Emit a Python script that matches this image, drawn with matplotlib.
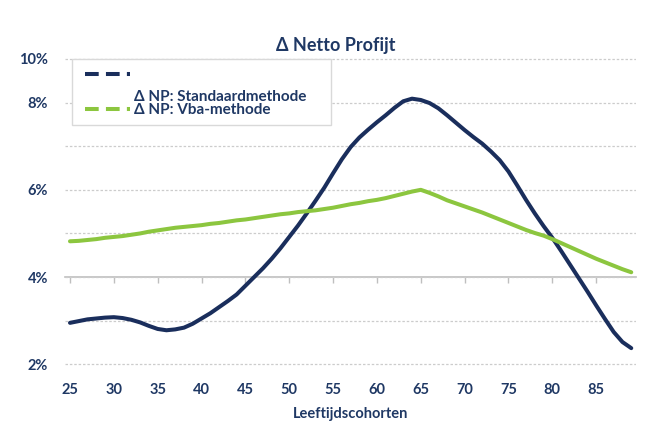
import matplotlib
matplotlib.use("Agg")
import matplotlib.pyplot as plt
from matplotlib.lines import Line2D
from matplotlib.patches import Rectangle

# ---- data ----
ages = list(range(25, 90))
standaard = [2.95, 2.99, 3.03, 3.05, 3.07, 3.08, 3.06, 3.02, 2.96, 2.88,
             2.81, 2.78, 2.80, 2.84, 2.93, 3.05, 3.17, 3.31, 3.45, 3.60,
             3.80, 4.00, 4.20, 4.42, 4.66, 4.92, 5.18, 5.46, 5.75, 6.05,
             6.38, 6.70, 6.98, 7.20, 7.38, 7.55, 7.71, 7.88, 8.03, 8.09,
             8.06, 7.99, 7.87, 7.71, 7.54, 7.37, 7.21, 7.06, 6.88, 6.68,
             6.42, 6.10, 5.77, 5.46, 5.17, 4.90, 4.60, 4.29, 3.98, 3.67,
             3.35, 3.04, 2.74, 2.51, 2.37]
vba = [4.82, 4.83, 4.85, 4.87, 4.90, 4.92, 4.94, 4.97, 5.00, 5.04,
       5.07, 5.10, 5.13, 5.15, 5.17, 5.19, 5.22, 5.24, 5.27, 5.30,
       5.32, 5.35, 5.38, 5.41, 5.44, 5.46, 5.49, 5.51, 5.53, 5.56,
       5.59, 5.63, 5.67, 5.70, 5.74, 5.77, 5.81, 5.86, 5.91, 5.96,
       6.00, 5.93, 5.85, 5.76, 5.69, 5.62, 5.55, 5.48, 5.40, 5.32,
       5.24, 5.16, 5.08, 5.01, 4.95, 4.87, 4.78, 4.69, 4.60, 4.51,
       4.42, 4.34, 4.26, 4.18, 4.11]
x_ticks = [25, 30, 35, 40, 45, 50, 55, 60, 65, 70, 75, 80, 85]
y_grid = [2, 3, 4, 5, 6, 7, 8, 9]
y_tick_labels = ['2%', '', '4%', '', '6%', '', '8%', '10%']
axis_cross = 4
series_labels = ['Δ NP: Standaardmethode', 'Δ NP: Vba-methode']
title = 'Δ Netto Profijt'
xlabel = 'Leeftijdscohorten'

NAVY = '#1a2e5c'
GREEN = '#8cc63f'
TXT = '#1f3864'
FONT = ['Lato', 'DejaVu Sans']
plt.rcParams['font.family'] = FONT

W, H = 646, 433
fig = plt.figure(figsize=(6.46, 4.33), dpi=100)
ax = fig.add_axes([0.1006, 0.1436, 0.8839, 0.7252])
ymin, ymax = 1.85, 9.05
ax.set_xlim(24.43, 89.54)
ax.set_ylim(ymin, ymax)

LW = 2.9
ax.plot(ages, standaard, color=NAVY, lw=LW, solid_capstyle='round',
        solid_joinstyle='round', zorder=3)
ax.plot(ages, vba, color=GREEN, lw=LW, solid_capstyle='round',
        solid_joinstyle='round', zorder=3)

for s in ax.spines.values():
    s.set_visible(False)
ax.set_yticks(y_grid)
ax.set_yticklabels(y_tick_labels)
ax.set_xticks(x_ticks)
ax.set_xticklabels([str(v) for v in x_ticks])
ax.tick_params(axis='both', length=0, labelcolor=TXT, labelsize=10.5)
ax.tick_params(axis='y', pad=12)
ax.tick_params(axis='x', pad=9)
for t in ax.get_xticklabels() + ax.get_yticklabels():
    t.set_fontweight('bold')
ax.grid(axis='y', color='#cccccc', lw=0.9, linestyle=(0, (2, 1.5)))
ax.set_axisbelow(True)

# horizontal category axis crossing at 4%
sec = ax.secondary_xaxis((axis_cross - ymin) / (ymax - ymin))
sec.set_xticks(x_ticks)
sec.tick_params(direction='out', length=4, color='#bfbfbf', width=1,
                labelbottom=False, labeltop=False)
for s in sec.spines.values():
    s.set_color('#bfbfbf')
    s.set_linewidth(1.2)

ax.set_xlabel(xlabel, fontsize=10.5, fontweight='bold', color=TXT, labelpad=7)
fig.text(336 / W, 1 - 45 / H, title, ha='center', va='center',
         fontsize=13, fontweight='bold', color=TXT)

# legend frame
fig.patches.append(Rectangle((72 / W, 1 - 125 / H), 259 / W, 66 / H,
                             transform=fig.transFigure, facecolor='white',
                             edgecolor='#d9d9d9', lw=1.0, zorder=1))

FS = 11
dash = (0, (3.4, 1.8))
hl = 45 / (FS * 100 / 72)
leg1 = fig.legend([Line2D([], [], color=NAVY, lw=LW, linestyle=dash)], [' '],
                  loc='center left', bbox_to_anchor=(85 / W, 1 - 75 / H),
                  borderaxespad=0, borderpad=0, frameon=False, fontsize=FS,
                  handlelength=hl, handletextpad=0.25)
leg2 = fig.legend([Line2D([], [], color='none', lw=0),
                   Line2D([], [], color=GREEN, lw=LW, linestyle=dash)],
                  series_labels, loc='upper left',
                  bbox_to_anchor=(85 / W, 1 - 90 / H),
                  borderaxespad=0, borderpad=0, frameon=False, fontsize=FS,
                  handlelength=hl, handletextpad=0.25, labelspacing=-0.05)
for lg in (leg1, leg2):
    lg.set_zorder(5)
    for t in lg.get_texts():
        t.set_color(TXT)
        t.set_fontweight('bold')

fig.savefig('out.png', dpi=100, facecolor='white')
